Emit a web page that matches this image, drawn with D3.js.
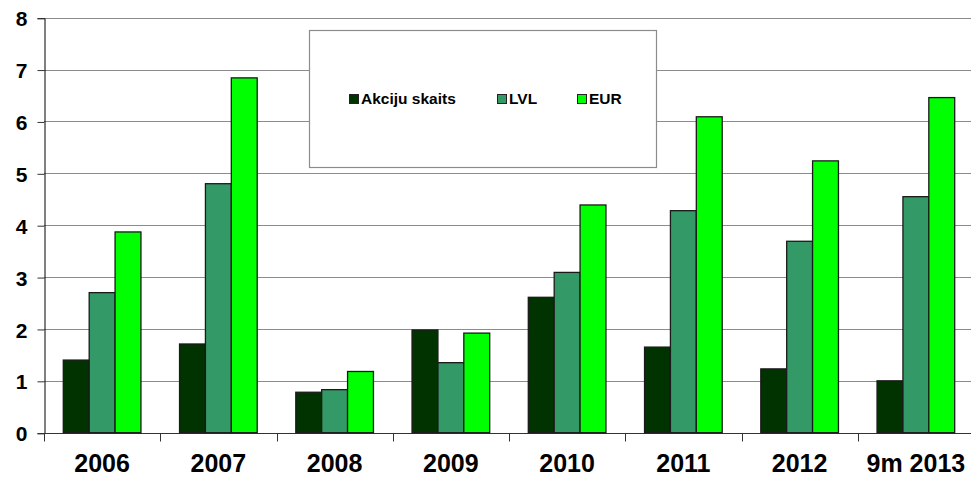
<!DOCTYPE html>
<html>
<head>
<meta charset="utf-8">
<script src="https://cdn.jsdelivr.net/npm/d3@7"></script>
<style>
  body { margin: 0; background: #fff; }
  svg { display: block; font-family: "Liberation Sans", Arial, sans-serif; }
</style>
</head>
<body>
<div id="chart"></div>
<script>
var categories = ["2006", "2007", "2008", "2009", "2010", "2011", "2012", "9m 2013"];
var seriesNames = ["Akciju skaits", "LVL", "EUR"];
var akcijuSkaits = [1.40, 1.71, 0.78, 1.98, 2.61, 1.65, 1.23, 1.00];
var lvl = [2.70, 4.80, 0.83, 1.35, 3.09, 4.28, 3.69, 4.55];
var eur = [3.87, 6.84, 1.18, 1.92, 4.39, 6.09, 5.24, 6.46];
var colors = ["#003300", "#339966", "#00ff00"];
var yTicks = [0, 1, 2, 3, 4, 5, 6, 7, 8];

var seriesValues = [akcijuSkaits, lvl, eur];

var width = 971, height = 478;
var plotLeft = 44, plotRight = 974, plotTop = 17.7, plotBottom = 432.7;

var svg = d3.select("#chart").append("svg")
	.attr("width", width)
	.attr("height", height);

var x0 = d3.scaleBand().domain(categories).range([plotLeft, plotRight]);
var bw = x0.bandwidth();
var pad = bw * 0.166;
var x1 = d3.scaleBand().domain(seriesNames).range([pad, bw - pad]);
var y = d3.scaleLinear().domain([0, 8]).range([plotBottom, plotTop]);

// grid
svg.append("g")
	.selectAll("line")
	.data(yTicks.filter(function(d) { return d > 0; }))
	.enter().append("line")
	.attr("x1", plotLeft).attr("x2", width)
	.attr("y1", function(d) { return Math.round(y(d)) + 0.5; })
	.attr("y2", function(d) { return Math.round(y(d)) + 0.5; })
	.attr("stroke", "#8c8c8c")
	.attr("stroke-width", 1.2);

// y axis
var yAxis = svg.append("g")
	.attr("transform", "translate(" + (plotLeft + 0.5) + ",0.5)")
	.call(d3.axisLeft(y).tickValues(yTicks).tickSize(7).tickPadding(10).tickFormat(d3.format("d")));
yAxis.select(".domain").attr("stroke", "#000");
yAxis.selectAll(".tick line").attr("stroke", "#333");
yAxis.selectAll("text")
	.attr("fill", "#000")
	.style("font-size", "21px")
	.style("font-weight", "bold")
	.attr("dy", "0.36em");

// x axis
var xAxis = svg.append("g")
	.attr("transform", "translate(0," + (Math.round(plotBottom) + 0.5) + ")")
	.call(d3.axisBottom(x0).tickSize(0).tickPadding(21));
xAxis.select(".domain").attr("stroke", "#333").attr("d", "M" + plotLeft + ",0H" + width);
xAxis.selectAll("text")
	.attr("fill", "#000")
	.style("font-size", "25px")
	.style("font-weight", "bold");
// boundary ticks between groups
xAxis.selectAll(".sep")
	.data(categories)
	.enter().append("line")
	.attr("class", "sep")
	.attr("x1", function(d) { return Math.round(x0(d)) + 0.5; })
	.attr("x2", function(d) { return Math.round(x0(d)) + 0.5; })
	.attr("y1", 0).attr("y2", 8)
	.attr("stroke", "#333");

// bars
var groups = svg.append("g")
	.selectAll("g")
	.data(categories)
	.enter().append("g")
	.attr("transform", function(d) { return "translate(" + x0(d) + ",0)"; });

groups.selectAll("rect")
	.data(function(d, i) {
		return seriesNames.map(function(s, j) { return {series: s, value: seriesValues[j][i], idx: j}; });
	})
	.enter().append("rect")
	.attr("x", function(d) { return x1(d.series); })
	.attr("width", x1.bandwidth())
	.attr("y", function(d) { return y(d.value); })
	.attr("height", function(d) { return plotBottom - y(d.value); })
	.attr("fill", function(d) { return colors[d.idx]; })
	.attr("stroke", "#1a1a1a")
	.attr("stroke-width", 1.3);

// legend
var legend = svg.append("g");
legend.append("rect")
	.attr("x", 309.5).attr("y", 30.5)
	.attr("width", 347).attr("height", 137)
	.attr("fill", "#fff")
	.attr("stroke", "#8c8c8c")
	.attr("stroke-width", 1.2);

var legendX = [349, 497, 577];
var item = legend.selectAll(".item")
	.data(seriesNames)
	.enter().append("g")
	.attr("class", "item")
	.attr("transform", function(d, i) { return "translate(" + legendX[i] + ",104)"; });
item.append("rect")
	.attr("x", 0.5).attr("y", -9.5)
	.attr("width", 9).attr("height", 9)
	.attr("fill", function(d, i) { return colors[i]; })
	.attr("stroke", "#222");
item.append("text")
	.attr("x", 12)
	.attr("y", 0)
	.style("font-size", "15.5px")
	.style("font-weight", "bold")
	.text(function(d) { return d; });
</script>
</body>
</html>
